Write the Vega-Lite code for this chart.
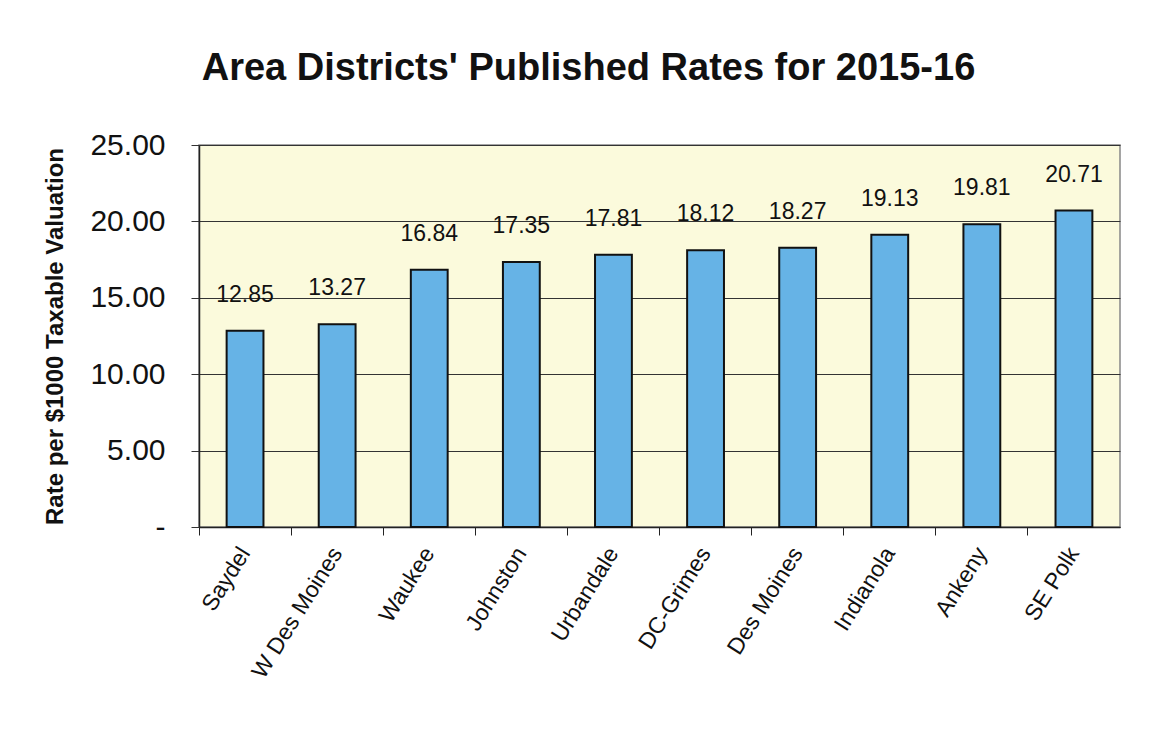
{
  "$schema": "https://vega.github.io/schema/vega-lite/v6.json",
  "width": 921,
  "height": 382,
  "autosize": {"type": "none"},
  "padding": {"left": 199, "top": 145, "right": 31, "bottom": 224},
  "background": "white",
  "title": {
    "text": "Area Districts' Published Rates for 2015-16",
    "font": "Liberation Sans",
    "fontSize": 38,
    "fontWeight": "bold",
    "color": "#111111",
    "anchor": "middle",
    "dx": -71,
    "offset": 42
  },
  "data": {
    "values": [
      {"district": "Saydel", "rate": 12.85},
      {"district": "W Des Moines", "rate": 13.27},
      {"district": "Waukee", "rate": 16.84},
      {"district": "Johnston", "rate": 17.35},
      {"district": "Urbandale", "rate": 17.81},
      {"district": "DC-Grimes", "rate": 18.12},
      {"district": "Des Moines", "rate": 18.27},
      {"district": "Indianola", "rate": 19.13},
      {"district": "Ankeny", "rate": 19.81},
      {"district": "SE Polk", "rate": 20.71}
    ]
  },
  "encoding": {
    "x": {
      "field": "district",
      "type": "nominal",
      "sort": null,
      "scale": {"paddingInner": 0.6, "paddingOuter": 0.3},
      "axis": {
        "title": null,
        "labelAngle": -58,
        "labelAlign": "right",
        "labelBaseline": "middle",
        "labelFont": "Liberation Sans",
        "labelFontSize": 23,
        "labelColor": "#111111",
        "labelPadding": 14,
        "bandPosition": -0.75,
        "tickSize": 8,
        "tickColor": "#222222",
        "domainColor": "#222222",
        "domainWidth": 1.5
      }
    },
    "y": {
      "field": "rate",
      "type": "quantitative",
      "scale": {"domain": [0, 25], "nice": false},
      "axis": {
        "title": "Rate per $1000  Taxable Valuation",
        "titleFont": "Liberation Sans",
        "titleFontSize": 24,
        "titleFontWeight": "bold",
        "titleColor": "#111111",
        "titlePadding": 22,
        "values": [0, 5, 10, 15, 20, 25],
        "labelExpr": "datum.value === 0 ? '-' : format(datum.value, '.2f')",
        "labelFont": "Liberation Sans",
        "labelFontSize": 30,
        "labelColor": "#111111",
        "labelPadding": 26,
        "tickSize": 8,
        "tickColor": "#333333",
        "domainColor": "#222222",
        "domainWidth": 1.5,
        "grid": true,
        "gridColor": "#333333",
        "gridWidth": 1.2
      }
    }
  },
  "layer": [
    {
      "mark": {"type": "bar", "fill": "#66B3E6", "stroke": "#111111", "strokeWidth": 2}
    },
    {
      "mark": {"type": "text", "font": "Liberation Sans", "fontSize": 23, "color": "#111111", "baseline": "bottom", "dy": -24},
      "encoding": {
        "text": {"field": "rate", "type": "quantitative", "format": ".2f"}
      }
    }
  ],
  "config": {
    "view": {"fill": "#FBFADC", "stroke": "#888888", "strokeWidth": 1.5}
  }
}
